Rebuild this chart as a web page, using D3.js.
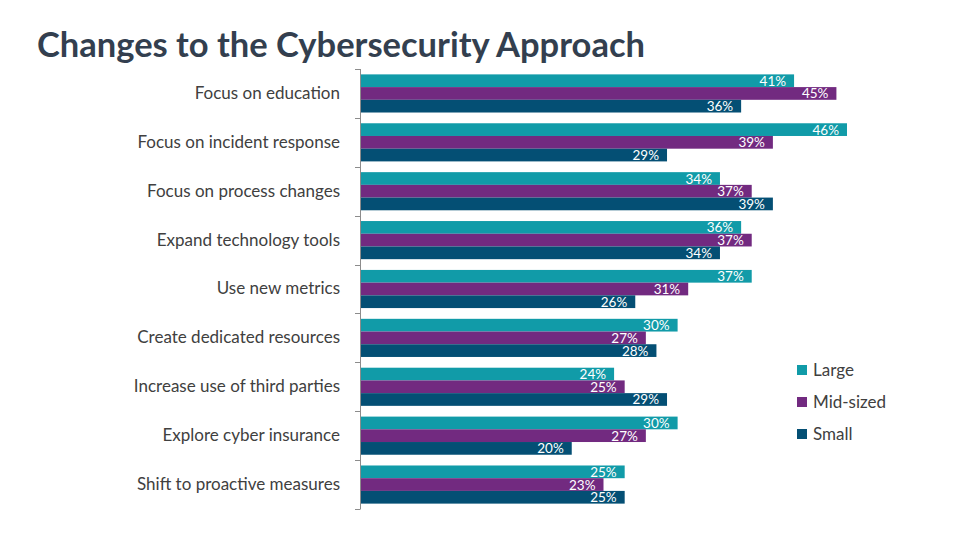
<!DOCTYPE html>
<html><head><meta charset="utf-8">
<script src="https://cdn.jsdelivr.net/npm/d3@7/dist/d3.min.js"></script>
<style>body{margin:0;background:#fff;} svg{display:block;}</style>
</head><body>
<svg id="c" width="960" height="540"></svg>
<script>
const categories = ["Focus on education","Focus on incident response","Focus on process changes","Expand technology tools","Use new metrics","Create dedicated resources","Increase use of third parties","Explore cyber insurance","Shift to proactive measures"];
const seriesNames = ["Large","Mid-sized","Small"];
const large = [41,46,34,36,37,30,24,30,25];
const midSized = [45,39,37,37,31,27,25,27,23];
const small = [36,29,39,34,26,28,29,20,25];
const colors = ["#119ba8","#722a80","#044f74"];

const svg = d3.select("#c");
const font = "Lato, 'Open Sans', sans-serif";
svg.append("text").attr("x",37).attr("y",57).text("Changes to the Cybersecurity Approach")
  .attr("font-family",font).attr("font-weight","bold").attr("font-size",34.5).attr("fill","#333f4f");

const x0 = 360;
const x = d3.scaleLinear().domain([0,46]).range([x0,847]);
const y = d3.scaleBand().domain(categories).range([69,509]).paddingInner(0.22).paddingOuter(0.11);
const ys = d3.scaleBand().domain(seriesNames).range([0,y.bandwidth()]);
const data = [large,midSized,small];

const g = svg.append("g");
categories.forEach((c,i)=>{
  data.forEach((arr,s)=>{
    const v = arr[i];
    const yy = y(c)+ys(seriesNames[s]);
    g.append("rect").attr("x",x(0)).attr("y",yy).attr("width",x(v)-x(0)).attr("height",ys.bandwidth()).attr("fill",colors[s]);
  });
});
categories.forEach((c,i)=>{
  data.forEach((arr,s)=>{
    const v = arr[i];
    const yy = y(c)+ys(seriesNames[s]);
    g.append("text").attr("x",x(v)-8).attr("y",yy+ys.bandwidth()/2+5).attr("text-anchor","end")
      .attr("font-family",font).attr("font-size",13.5).attr("fill","#fff").text(v+"%");
  });
});

// axis
const ax = svg.append("g").attr("transform",`translate(${x0},0)`);
const yAxis = d3.axisLeft(y).tickSize(0).tickPadding(20);
ax.call(yAxis);
ax.select(".domain").remove();
ax.selectAll("text").attr("font-family",font).attr("font-size",17).attr("fill","#404040");
svg.append("line").attr("x1",x0+0.5).attr("x2",x0+0.5).attr("y1",69).attr("y2",509).attr("stroke","#8c8c8c").attr("stroke-width",1);
svg.selectAll(".tk").data(d3.range(categories.length+1)).enter().append("line")
  .attr("x1",x0-5).attr("x2",x0+0.5)
  .attr("y1",i=>Math.round(y.range()[0]+i*(y.range()[1]-y.range()[0])/categories.length)+0.5)
  .attr("y2",i=>Math.round(y.range()[0]+i*(y.range()[1]-y.range()[0])/categories.length)+0.5)
  .attr("stroke","#8c8c8c").attr("stroke-width",1);

// legend
const lg = svg.append("g");
seriesNames.forEach((n,i)=>{
  const ly = 370 + i*32;
  lg.append("rect").attr("x",797).attr("y",ly-5).attr("width",10).attr("height",10).attr("fill",colors[i]);
  lg.append("text").attr("x",813).attr("y",ly+6).text(n).attr("font-family",font).attr("font-size",17).attr("fill","#404040");
});
</script>
</body></html>
